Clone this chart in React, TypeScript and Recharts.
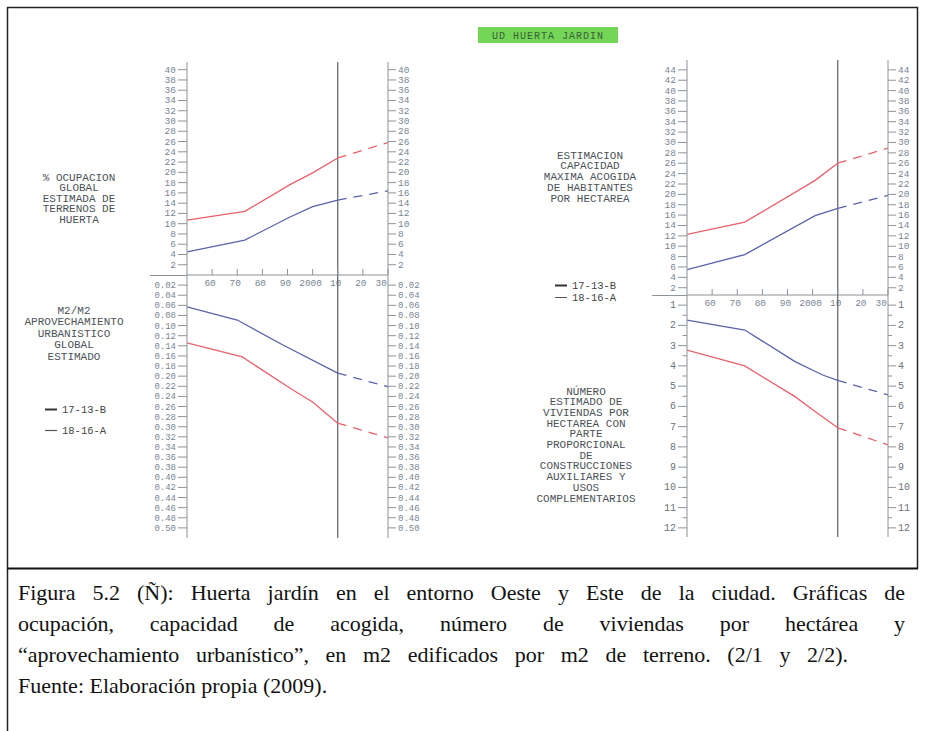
import React from 'react';
import { LineChart, Line, XAxis, YAxis, ReferenceLine } from 'recharts';

// ---------- shared axis values ----------
const YEAR_DOMAIN: [number, number] = [1950, 2030];
const xTicks = [1960, 1970, 1980, 1990, 2000, 2010, 2020, 2030];
const xTickLabels = ['60', '70', '80', '90', '2000', '10', '20', '30'];
const projYears = [2010, 2030];

// ---------- top-left: % ocupación global estimada de terrenos de huerta ----------
const occYears = [1950, 1973, 1991, 2000, 2010];
const occRed = [10.7, 12.4, 17.6, 19.9, 22.8];
const occBlue = [4.5, 6.8, 11.3, 13.3, 14.6];
const occRedProj = [22.8, 25.8];
const occBlueProj = [14.6, 16.4];
const occTicks = [2, 4, 6, 8, 10, 12, 14, 16, 18, 20, 22, 24, 26, 28, 30, 32, 34, 36, 38, 40];

// ---------- bottom-left: m2/m2 aprovechamiento urbanístico ----------
const aprovBlueYears = [1950, 1970, 1988, 2010];
const aprovBlue = [0.063, 0.089, 0.138, 0.194];
const aprovRedYears = [1950, 1972, 1992, 2000, 2010];
const aprovRed = [0.134, 0.162, 0.227, 0.251, 0.293];
const aprovBlueProj = [0.194, 0.221];
const aprovRedProj = [0.293, 0.322];
const aprovTicks = [0.02, 0.04, 0.06, 0.08, 0.1, 0.12, 0.14, 0.16, 0.18, 0.2, 0.22, 0.24, 0.26, 0.28, 0.3, 0.32, 0.34, 0.36, 0.38, 0.4, 0.42, 0.44, 0.46, 0.48, 0.5];

// ---------- top-right: capacidad máxima acogida habitantes/ha ----------
const habYears = [1950, 1973, 2001, 2010];
const habRed = [12.3, 14.65, 22.7, 26.0];
const habBlue = [5.5, 8.4, 15.9, 17.3];
const habRedProj = [26.0, 28.9];
const habBlueProj = [17.3, 19.8];
const habTicks = [2, 4, 6, 8, 10, 12, 14, 16, 18, 20, 22, 24, 26, 28, 30, 32, 34, 36, 38, 40, 42, 44];

// ---------- bottom-right: viviendas por hectárea ----------
const vivBlueYears = [1950, 1973, 1993, 2004, 2010];
const vivBlue = [1.74, 2.23, 3.79, 4.45, 4.72];
const vivRedYears = [1950, 1973, 1993, 2001, 2010];
const vivRed = [3.22, 4.0, 5.52, 6.25, 7.06];
const vivBlueProj = [4.72, 5.43];
const vivRedProj = [7.06, 7.9];
const vivTicks = [1, 1.5, 2, 2.5, 3, 3.5, 4, 4.5, 5, 5.5, 6, 6.5, 7, 7.5, 8, 8.5, 9, 9.5, 10, 10.5, 11, 11.5, 12];

// ---------- caption ----------
const captionLines = [
  'Figura 5.2 (Ñ): Huerta jardín en el entorno Oeste y Este de la ciudad. Gráficas de',
  'ocupación, capacidad de acogida, número de viviendas por hectárea y',
  '“aprovechamiento urbanístico”, en m2 edificados por m2 de terreno. (2/1 y 2/2).',
  'Fuente: Elaboración propia (2009).',
];

// ---------- styles ----------
const AXIS = '#8d9399';
const TICK_TXT = '#7a8593';
const RED = '#e8616b';
const BLUE = '#5b62aa';
const MONO = '"Liberation Mono", "DejaVu Sans Mono", monospace';
const SERIF = '"Liberation Serif", "DejaVu Serif", serif';
const LABEL = '#4d5258';

function toRows(years: number[], vals: number[]) {
  return years.map((year, i) => ({ year, v: vals[i] }));
}

function makeYTick(side: 'left' | 'right', len: number, gap: number, fmt: (v: number) => string, fs: number, fill: string) {
  return (props: any) => {
    const { x, y, payload } = props;
    const label = fmt(payload.value);
    const l = label === '' ? len * 0.5 : len;
    const dir = side === 'left' ? -1 : 1;
    return (
      <g>
        <line x1={x} y1={y} x2={x + dir * l} y2={y} stroke={AXIS} strokeWidth={1} />
        {label !== '' && (
          <text x={x + dir * (len + gap)} y={y} dy={3} textAnchor={side === 'left' ? 'end' : 'start'} fontSize={fs} fill={fill} fontFamily={MONO}>
            {label}
          </text>
        )}
      </g>
    );
  };
}

const XTick = (props: any) => {
  const { x, y, payload } = props;
  const i = xTicks.indexOf(payload.value);
  const last = i === xTicks.length - 1;
  return (
    <g>
      <line x1={x} y1={y} x2={x} y2={y - 6} stroke={AXIS} strokeWidth={1} />
      <text x={last ? x - 1 : x - 2} y={y + 11} textAnchor={last ? 'end' : 'middle'} fontSize={9.5} fill={TICK_TXT} fontFamily={MONO}>
        {xTickLabels[i]}
      </text>
    </g>
  );
};

const fmtInt = (v: number) => String(v);
const fmt2 = (v: number) => v.toFixed(2);
const fmtHalf = (v: number) => (Number.isInteger(v) ? String(v) : '');

type PanelProps = {
  left: number;
  top: number;
  width: number;
  height: number;
  margin: { top: number; right: number; bottom: number; left: number };
  yLeftW: number;
  yRightW: number;
  domain: [number, number];
  ticks: number[];
  reversed?: boolean;
  showX: boolean;
  fmt: (v: number) => string;
  tickFs: number;
  tickFill: string;
  lines: { data: { year: number; v: number }[]; color: string; dashed?: boolean }[];
};

function Panel(p: PanelProps) {
  return (
    <div style={{ position: 'absolute', left: p.left, top: p.top, width: p.width, height: p.height }}>
      <LineChart width={p.width} height={p.height} margin={p.margin}>
        {p.showX ? (
          <XAxis
            xAxisId="b"
            dataKey="year"
            type="number"
            domain={YEAR_DOMAIN}
            allowDataOverflow
            ticks={xTicks}
            interval={0}
            height={20}
            tickSize={0}
            tickMargin={0}
            tickLine={false}
            stroke={AXIS}
            tick={XTick}
          />
        ) : (
          <XAxis xAxisId="b" dataKey="year" type="number" domain={YEAR_DOMAIN} allowDataOverflow height={0} tick={false} tickLine={false} stroke={AXIS} />
        )}
        <XAxis xAxisId="t" orientation="top" dataKey="year" type="number" domain={YEAR_DOMAIN} allowDataOverflow height={0} tick={false} tickLine={false} stroke={p.showX ? AXIS : 'none'} />
        <YAxis
          yAxisId="l"
          type="number"
          domain={p.domain}
          allowDataOverflow
          reversed={p.reversed}
          ticks={p.ticks}
          interval={0}
          width={p.yLeftW}
          tickSize={0}
          tickMargin={0}
          tickLine={false}
          stroke={AXIS}
          tick={makeYTick('left', 9, 2, p.fmt, p.tickFs, p.tickFill)}
        />
        <YAxis
          yAxisId="r"
          orientation="right"
          type="number"
          domain={p.domain}
          allowDataOverflow
          reversed={p.reversed}
          ticks={p.ticks}
          interval={0}
          width={p.yRightW}
          tickSize={0}
          tickMargin={0}
          tickLine={false}
          stroke={AXIS}
          tick={makeYTick('right', 8, 2, p.fmt, p.tickFs, p.tickFill)}
        />
        <ReferenceLine xAxisId="b" yAxisId="l" x={2010} stroke="#5a5e63" strokeWidth={1.2} />
        {p.lines.map((ln, i) => (
          <Line
            key={i}
            xAxisId="b"
            yAxisId="l"
            data={ln.data}
            dataKey="v"
            type="linear"
            dot={false}
            stroke={ln.color}
            strokeWidth={1.3}
            strokeDasharray={ln.dashed ? '9 7' : undefined}
            isAnimationActive={false}
          />
        ))}
      </LineChart>
    </div>
  );
}

const CadText = ({ cx, ys, lines, fs = 11 }: { cx: number; ys: number[]; lines: string[]; fs?: number }) => (
  <g>
    {lines.map((t, i) => (
      <text key={i} x={cx} y={ys[i] + 3.5} textAnchor="middle" fontSize={fs} fill={LABEL} fontFamily={MONO}>
        {t}
      </text>
    ))}
  </g>
);

export default function App() {
  const seq = (a: number, step: number, n: number) => Array.from({ length: n }, (_, i) => a + step * i);
  const capBase: React.CSSProperties = {
    position: 'absolute',
    left: 18,
    fontFamily: SERIF,
    fontSize: 22,
    lineHeight: '31px',
    color: '#111',
    whiteSpace: 'nowrap',
  };
  const just: React.CSSProperties = { textAlign: 'justify', textAlignLast: 'justify' };
  return (
    <div style={{ position: 'absolute', left: 0, top: 0, width: 925, height: 731, background: '#fff', overflow: 'hidden' }}>
      <svg width={925} height={731} style={{ position: 'absolute', left: 0, top: 0 }}>
        {/* frame */}
        <line x1={7} y1={7.5} x2={918} y2={7.5} stroke="#222" strokeWidth={1.5} />
        <line x1={7.5} y1={7} x2={7.5} y2={731} stroke="#222" strokeWidth={1.5} />
        <line x1={917.5} y1={7} x2={917.5} y2={569} stroke="#222" strokeWidth={1.5} />
        <line x1={7} y1={568.5} x2={918} y2={568.5} stroke="#111" strokeWidth={2} />

        {/* title */}
        <rect x={478} y={27} width={140} height={16} fill="#74d657" />
        <text x={548} y={39} textAnchor="middle" fontSize={10} letterSpacing={1} fill="#3b5f35" fontFamily={MONO}>
          UD HUERTA JARDIN
        </text>

        {/* axis extensions */}
        <line x1={150} y1={275.5} x2={187} y2={275.5} stroke={AXIS} strokeWidth={1} />
        <line x1={652} y1={295.5} x2={687} y2={295.5} stroke={AXIS} strokeWidth={1} />

        {/* left labels */}
        <CadText cx={79} ys={seq(177, 10.5, 5)} lines={['% OCUPACION', 'GLOBAL', 'ESTIMADA DE', 'TERRENOS DE', 'HUERTA']} />
        <CadText cx={74} ys={seq(310, 11.5, 5)} lines={['M2/M2', 'APROVECHAMIENTO', 'URBANISTICO', 'GLOBAL', 'ESTIMADO']} />
        <line x1={45} y1={409.5} x2={57} y2={409.5} stroke="#333" strokeWidth={2} />
        <text x={62} y={413} fontSize={10.5} fill="#444" fontFamily={MONO}>17-13-B</text>
        <line x1={45} y1={430.5} x2={57} y2={430.5} stroke="#555" strokeWidth={1.2} />
        <text x={62} y={434} fontSize={10.5} fill="#444" fontFamily={MONO}>18-16-A</text>

        {/* right labels */}
        <CadText cx={590} ys={seq(155, 10.9, 5)} lines={['ESTIMACION', 'CAPACIDAD', 'MAXIMA ACOGIDA', 'DE HABITANTES', 'POR HECTAREA']} />
        <line x1={555} y1={285.5} x2={567} y2={285.5} stroke="#333" strokeWidth={2} />
        <text x={572} y={289} fontSize={10.5} fill="#444" fontFamily={MONO}>17-13-B</text>
        <line x1={555} y1={297.5} x2={567} y2={297.5} stroke="#555" strokeWidth={1} />
        <text x={572} y={301} fontSize={10.5} fill="#444" fontFamily={MONO}>18-16-A</text>
        <CadText
          cx={586}
          ys={seq(391, 10.7, 11)}
          lines={['NÚMERO', 'ESTIMADO DE', 'VIVIENDAS POR', 'HECTAREA CON', 'PARTE', 'PROPORCIONAL', 'DE', 'CONSTRUCCIONES', 'AUXILIARES Y', 'USOS', 'COMPLEMENTARIOS']}
        />
      </svg>

      {/* caption */}
      <div style={{ ...capBase, ...just, top: 577, width: 887 }}>{captionLines[0]}</div>
      <div style={{ ...capBase, ...just, top: 608, width: 887 }}>{captionLines[1]}</div>
      <div style={{ ...capBase, ...just, top: 639, width: 830 }}>{captionLines[2]}</div>
      <div style={{ ...capBase, top: 670 }}>{captionLines[3]}</div>

      {/* top-left */}
      <Panel
        left={140}
        top={50}
        width={290}
        height={245}
        margin={{ top: 12, right: 0, bottom: 0, left: 0 }}
        yLeftW={47}
        yRightW={42}
        domain={[0, 41.5]}
        ticks={occTicks}
        showX
        fmt={fmtInt}
        tickFs={9.5}
        tickFill={TICK_TXT}
        lines={[
          { data: toRows(occYears, occRed), color: RED },
          { data: toRows(occYears, occBlue), color: BLUE },
          { data: toRows(projYears, occRedProj), color: RED, dashed: true },
          { data: toRows(projYears, occBlueProj), color: BLUE, dashed: true },
        ]}
      />

      {/* bottom-left */}
      <Panel
        left={140}
        top={265}
        width={290}
        height={283}
        margin={{ top: 10, right: 0, bottom: 10, left: 0 }}
        yLeftW={47}
        yRightW={42}
        domain={[0, 0.52]}
        reversed
        ticks={aprovTicks}
        showX={false}
        fmt={fmt2}
        tickFs={9}
        tickFill={TICK_TXT}
        lines={[
          { data: toRows(aprovBlueYears, aprovBlue), color: BLUE },
          { data: toRows(aprovRedYears, aprovRed), color: RED },
          { data: toRows(projYears, aprovBlueProj), color: BLUE, dashed: true },
          { data: toRows(projYears, aprovRedProj), color: RED, dashed: true },
        ]}
      />

      {/* top-right */}
      <Panel
        left={640}
        top={48}
        width={280}
        height={267}
        margin={{ top: 12, right: 0, bottom: 0, left: 0 }}
        yLeftW={47}
        yRightW={32}
        domain={[0.6, 45.9]}
        ticks={habTicks}
        showX
        fmt={fmtInt}
        tickFs={9.5}
        tickFill={TICK_TXT}
        lines={[
          { data: toRows(habYears, habRed), color: RED },
          { data: toRows(habYears, habBlue), color: BLUE },
          { data: toRows(projYears, habRedProj), color: RED, dashed: true },
          { data: toRows(projYears, habBlueProj), color: BLUE, dashed: true },
        ]}
      />

      {/* bottom-right */}
      <Panel
        left={640}
        top={285}
        width={280}
        height={262}
        margin={{ top: 10, right: 0, bottom: 10, left: 0 }}
        yLeftW={47}
        yRightW={32}
        domain={[0.5, 12.45]}
        reversed
        ticks={vivTicks}
        showX={false}
        fmt={fmtHalf}
        tickFs={10}
        tickFill="#6b727a"
        lines={[
          { data: toRows(vivBlueYears, vivBlue), color: BLUE },
          { data: toRows(vivRedYears, vivRed), color: RED },
          { data: toRows(projYears, vivBlueProj), color: BLUE, dashed: true },
          { data: toRows(projYears, vivRedProj), color: RED, dashed: true },
        ]}
      />
    </div>
  );
}
